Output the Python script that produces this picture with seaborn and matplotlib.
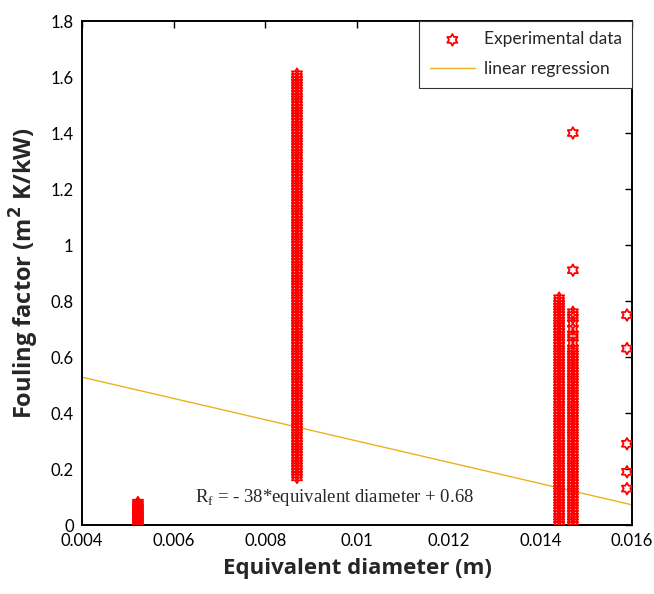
import numpy as np
import pandas as pd
import matplotlib
matplotlib.use("Agg")
import matplotlib.pyplot as plt
import seaborn as sns
from matplotlib.path import Path

# ---------------- data ----------------
d1 = 0.00522
rf1 = [0.0, 0.005, 0.01, 0.015, 0.02, 0.025, 0.03, 0.035, 0.04, 0.045, 0.05,
       0.055, 0.06, 0.065, 0.07, 0.075, 0.08]

d2 = 0.00869
rf2 = [0.17, 0.18, 0.19, 0.20, 0.21, 0.22, 0.23, 0.24, 0.25, 0.26, 0.27, 0.28,
       0.29, 0.30, 0.31, 0.32, 0.33, 0.34, 0.35, 0.36, 0.37, 0.38, 0.39, 0.40,
       0.41, 0.42, 0.43, 0.44, 0.45, 0.46, 0.47, 0.48, 0.49, 0.50, 0.51, 0.52,
       0.53, 0.54, 0.55, 0.56, 0.57, 0.58, 0.59, 0.60, 0.61, 0.62, 0.63, 0.64,
       0.65, 0.66, 0.67, 0.68, 0.69, 0.70, 0.71, 0.72, 0.73, 0.74, 0.75, 0.76,
       0.77, 0.78, 0.79, 0.80, 0.81, 0.82, 0.83, 0.84, 0.85, 0.86, 0.87, 0.88,
       0.89, 0.90, 0.91, 0.92, 0.93, 0.94, 0.95, 0.96, 0.97, 0.98, 0.99, 1.00,
       1.01, 1.02, 1.03, 1.04, 1.05, 1.06, 1.07, 1.08, 1.09, 1.10, 1.11, 1.12,
       1.13, 1.14, 1.15, 1.16, 1.17, 1.18, 1.19, 1.20, 1.21, 1.22, 1.23, 1.24,
       1.25, 1.26, 1.27, 1.28, 1.29, 1.30, 1.31, 1.32, 1.33, 1.34, 1.35, 1.36,
       1.37, 1.38, 1.39, 1.40, 1.41, 1.42, 1.43, 1.44, 1.45, 1.46, 1.47, 1.48,
       1.49, 1.50, 1.51, 1.52, 1.53, 1.54, 1.55, 1.56, 1.57, 1.58, 1.59, 1.60,
       1.61]

d3 = 0.01441
rf3 = [0.00, 0.01, 0.02, 0.03, 0.04, 0.05, 0.06, 0.07, 0.08, 0.09, 0.10, 0.11,
       0.12, 0.13, 0.14, 0.15, 0.16, 0.17, 0.18, 0.19, 0.20, 0.21, 0.22, 0.23,
       0.24, 0.25, 0.26, 0.27, 0.28, 0.29, 0.30, 0.31, 0.32, 0.33, 0.34, 0.35,
       0.36, 0.37, 0.38, 0.39, 0.40, 0.41, 0.42, 0.43, 0.44, 0.45, 0.46, 0.47,
       0.48, 0.49, 0.50, 0.51, 0.52, 0.53, 0.54, 0.55, 0.56, 0.57, 0.58, 0.59,
       0.60, 0.61, 0.62, 0.63, 0.64, 0.65, 0.66, 0.67, 0.68, 0.69, 0.70, 0.71,
       0.72, 0.73, 0.74, 0.75, 0.76, 0.77, 0.78, 0.79, 0.80, 0.81]

d4 = 0.01471
rf4 = [0.00, 0.01, 0.02, 0.03, 0.04, 0.05, 0.06, 0.07, 0.08, 0.09, 0.10, 0.11,
       0.12, 0.13, 0.14, 0.15, 0.16, 0.17, 0.18, 0.19, 0.20, 0.21, 0.22, 0.23,
       0.24, 0.25, 0.26, 0.27, 0.28, 0.29, 0.30, 0.31, 0.32, 0.33, 0.34, 0.35,
       0.36, 0.37, 0.38, 0.39, 0.40, 0.41, 0.42, 0.43, 0.44, 0.45, 0.46, 0.47,
       0.48, 0.49, 0.50, 0.51, 0.52, 0.53, 0.54, 0.55, 0.56, 0.57, 0.58, 0.59,
       0.60, 0.61, 0.62, 0.63, 0.65, 0.67, 0.68, 0.70, 0.72, 0.74, 0.75, 0.76,
       0.91, 1.40]

d5 = 0.01589
rf5 = [0.13, 0.19, 0.29, 0.63, 0.75]

slope = -38.0
intercept = 0.68
reg_x = [0.004, 0.016]

xticks = [0.004, 0.006, 0.008, 0.01, 0.012, 0.014, 0.016]
yticks = [0, 0.2, 0.4, 0.6, 0.8, 1, 1.2, 1.4, 1.6, 1.8]

# ---------------- frame ----------------
diam = ([d1] * len(rf1) + [d2] * len(rf2) + [d3] * len(rf3)
        + [d4] * len(rf4) + [d5] * len(rf5))
rf = rf1 + rf2 + rf3 + rf4 + rf5
df = pd.DataFrame({"diameter": diam, "rf": rf})
reg = pd.DataFrame({"diameter": reg_x,
                    "rf": [slope * v + intercept for v in reg_x]})

# hexagram marker
ang_o = np.deg2rad(90 + 60 * np.arange(6))
ang_i = ang_o + np.deg2rad(30)
ri = 1 / np.sqrt(3)
verts = []
for a, b in zip(ang_o, ang_i):
    verts.append((np.cos(a), np.sin(a)))
    verts.append((ri * np.cos(b), ri * np.sin(b)))
verts.append(verts[0])
hexagram = Path(verts, closed=True)

sns.set_style("white")
plt.rcParams["font.family"] = ["Lato", "DejaVu Sans"]
plt.rcParams["mathtext.fontset"] = "custom"
plt.rcParams["mathtext.rm"] = "Liberation Serif"

fig = plt.figure(figsize=(6.54, 5.94), dpi=100)
ax = fig.add_axes([82 / 654, 1 - 525 / 594, 550 / 654, 504 / 594])

sns.scatterplot(data=df, x="diameter", y="rf", ax=ax, marker=hexagram,
                s=70, facecolors="none", edgecolor="#ff0000", linewidth=1.3,
                label="Experimental data", zorder=3)
sns.lineplot(data=reg, x="diameter", y="rf", ax=ax, color="#EDB120",
             linewidth=1.0, label="linear regression", zorder=2)

ax.set_xlim(0.004, 0.016)
ax.set_ylim(0, 1.8)
ax.set_xticks(xticks)
ax.set_yticks(yticks)
ax.set_xticklabels([f"{v:g}" for v in xticks])
ax.set_yticklabels([f"{v:g}" for v in yticks])
ax.tick_params(direction="in", length=5, width=1.0, top=True, right=True,
               labelsize=12, colors="black", pad=6)
for sp in ax.spines.values():
    sp.set_linewidth(1.4)
    sp.set_color("black")

lab_family = ["Open Sans", "DejaVu Sans"]
ax.set_xlabel("Equivalent diameter (m)", labelpad=6, fontsize=16,
              fontweight="bold", family=lab_family)
ax.set_ylabel("Fouling factor (m$^\\mathbf{2}$ K/kW)", labelpad=7,
              fontsize=17, fontweight="bold", family=lab_family)

ax.text(0.00952, 0.1, "R$_\\mathrm{f}$ = - 38*equivalent diameter + 0.68",
        fontsize=13.5, family="Liberation Serif", ha="center", va="center")

leg = ax.legend(loc="upper right", borderaxespad=0, fontsize=12.5,
                frameon=True, fancybox=False, framealpha=1,
                edgecolor="#333333", handlelength=2.6, handletextpad=0.5,
                markerscale=1.0, borderpad=0.6, labelspacing=0.8)
leg.get_frame().set_linewidth(0.8)

fig.savefig("out.png", dpi=100)
